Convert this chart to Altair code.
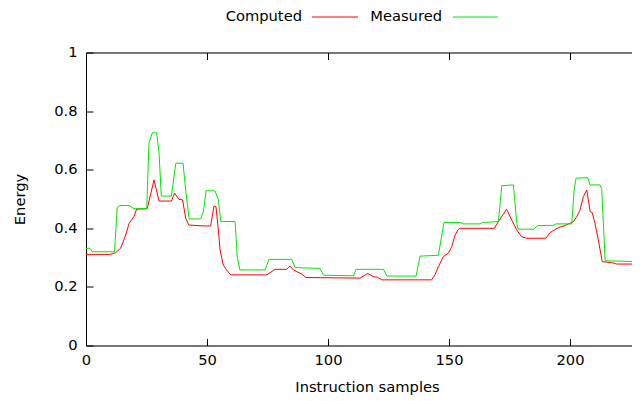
import altair as alt
import pandas as pd

# ---- data ----
computed_x = [0, 10, 12.3, 14.3, 16.4, 17.8, 19.8, 20.9, 25.3, 28.1,
              30.2, 35.3, 36.6, 38.4, 39.9, 41.2, 42.5, 48.8, 51.5, 52.9,
              53.7, 54.7, 55.4, 56.7, 58.1, 59.8, 74.7, 76, 78.1, 82.9,
              84.3, 85.7, 87.1, 89.1, 90.9, 113.2, 116.4, 118.7, 120.4, 122.2,
              142.8, 144.2, 145.6, 147.6, 149.7, 151.1, 152.5, 153.9, 154.5, 168.7,
              170.4, 173.8, 175.9, 178, 180, 182.1, 190, 191.7, 193.8, 195.9,
              198, 200, 201.4, 202.8, 204.1, 205.5, 206.9, 208.3, 209.2, 210.3,
              211.7, 213.3, 217.2, 219.3, 229]
computed_y = [0.311, 0.311, 0.317, 0.332, 0.377, 0.417, 0.44, 0.465, 0.467, 0.565,
              0.493, 0.493, 0.52, 0.499, 0.497, 0.434, 0.411, 0.408, 0.408, 0.476,
              0.474, 0.394, 0.326, 0.275, 0.258, 0.241, 0.241, 0.248, 0.26, 0.26,
              0.271, 0.258, 0.252, 0.244, 0.232, 0.23, 0.246, 0.235, 0.233, 0.224,
              0.224, 0.241, 0.269, 0.303, 0.315, 0.337, 0.377, 0.397, 0.40, 0.40,
              0.423, 0.465, 0.428, 0.394, 0.371, 0.366, 0.366, 0.385, 0.396, 0.404,
              0.41, 0.417, 0.423, 0.44, 0.462, 0.508, 0.531, 0.457, 0.453, 0.417,
              0.36, 0.286, 0.283, 0.278, 0.278]

measured_x = [0, 1.6, 2.6, 11.8, 12.9, 14, 17.8, 19.8, 25.1, 26,
              27.4, 29.2, 30.2, 31.1, 35.3, 37.1, 40.1, 41.2, 42.6, 47.4,
              48.5, 49.6, 53.3, 54.7, 55.7, 61.6, 62.5, 63.6, 74, 75.6,
              85, 86.4, 96.7, 98.1, 110.5, 111.6, 122.9, 124.3, 136.4, 138,
              145.6, 147.9, 154.5, 155.9, 162.8, 163.9, 170.4, 171.8, 176.6, 178,
              178.6, 185.1, 186.5, 193.1, 194.2, 200.7, 201.7, 202.5, 207.3, 208.3,
              212.4, 213.1, 214.5, 229]
measured_y = [0.332, 0.332, 0.32, 0.32, 0.472, 0.478, 0.478, 0.467, 0.467, 0.69,
              0.726, 0.726, 0.656, 0.51, 0.51, 0.622, 0.622, 0.53, 0.432, 0.432,
              0.457, 0.528, 0.528, 0.497, 0.423, 0.423, 0.303, 0.258, 0.258, 0.294,
              0.294, 0.266, 0.263, 0.24, 0.238, 0.26, 0.26, 0.237, 0.237, 0.305,
              0.308, 0.42, 0.42, 0.415, 0.415, 0.42, 0.423, 0.545, 0.548, 0.417,
              0.397, 0.397, 0.409, 0.41, 0.415, 0.415, 0.531, 0.571, 0.573, 0.548,
              0.548, 0.533, 0.289, 0.286]

series = ["Computed", "Measured"]
colors = ["#ff0000", "#00e600"]
x_ticks = [0, 50, 100, 150, 200]
y_ticks = [0, 0.2, 0.4, 0.6, 0.8, 1]

df = pd.concat([
    pd.DataFrame({"x": computed_x, "y": computed_y, "series": series[0]}),
    pd.DataFrame({"x": measured_x, "y": measured_y, "series": series[1]}),
], ignore_index=True)

FONT = "DejaVu Sans"
FS = 14.7
W, H = 546, 293
TICK_IN = alt.ExprRef(expr="-7")

xscale = alt.Scale(domain=[0, 225.6], nice=False, zero=False)
yscale = alt.Scale(domain=[0, 1], nice=False)

x_bottom = alt.Axis(orient="bottom", values=x_ticks, grid=False, tickSize=TICK_IN,
                    labelPadding=14, labelFlush=False, labelFont=FONT, labelFontSize=FS,
                    labelColor="black", domainColor="black", tickColor="black",
                    title="Instruction samples", titleFont=FONT, titleFontSize=FS,
                    titleFontWeight="normal", titleColor="black",
                    titleX=281, titleY=41.5, titleAlign="center", titleBaseline="middle")
x_top = alt.Axis(orient="top", values=x_ticks, grid=False, tickSize=TICK_IN,
                 labels=False, title=None, domainColor="black", tickColor="black")
y_left = alt.Axis(orient="left", values=y_ticks, format="~g", grid=False, tickSize=TICK_IN,
                  labelPadding=16, labelFont=FONT, labelFontSize=FS, labelColor="black",
                  labelFlush=False, domainColor="black", tickColor="black",
                  title="Energy", titleFont=FONT, titleFontSize=FS, titleFontWeight="normal",
                  titleColor="black", titleX=-66, titleY=H / 2, titleAngle=270,
                  titleAlign="center", titleBaseline="middle")

base = alt.Chart(df)

lines = base.mark_line(strokeWidth=1, clip=True).encode(
    x=alt.X("x:Q", scale=xscale, axis=x_bottom),
    y=alt.Y("y:Q", scale=yscale, axis=y_left),
    color=alt.Color("series:N", scale=alt.Scale(domain=series, range=colors), legend=None),
    detail="series:N",
)

mirror = base.mark_line(opacity=0, clip=True).encode(
    x=alt.X("x:Q", scale=xscale, axis=x_top),
    y=alt.Y("y:Q", scale=yscale, axis=y_left),
    detail="series:N",
)

# legend (gnuplot style: label then line sample)
leg_y = -35.5
leg1_txt = alt.Chart(pd.DataFrame({"s": [series[0]]})).mark_text(
    align="right", baseline="middle", font=FONT, fontSize=FS, color="black"
).encode(x=alt.value(216), y=alt.value(leg_y), text="s:N")
leg1_line = alt.Chart(pd.DataFrame({"s": [series[0]]})).mark_rule(
    color=colors[0], strokeWidth=1
).encode(x=alt.value(226), x2=alt.value(272), y=alt.value(leg_y))
leg2_txt = alt.Chart(pd.DataFrame({"s": [series[1]]})).mark_text(
    align="right", baseline="middle", font=FONT, fontSize=FS, color="black"
).encode(x=alt.value(356), y=alt.value(leg_y), text="s:N")
leg2_line = alt.Chart(pd.DataFrame({"s": [series[1]]})).mark_rule(
    color=colors[1], strokeWidth=1
).encode(x=alt.value(367), x2=alt.value(412), y=alt.value(leg_y))

chart = alt.layer(lines, mirror, leg1_txt, leg1_line, leg2_txt, leg2_line).resolve_axis(
    x="independent"
).properties(
    width=W, height=H,
    autosize=alt.AutoSizeParams(type="none"),
    padding={"left": 78, "top": 44.5, "right": 0, "bottom": 52},
).configure_view(stroke=None).configure(background="white")

chart.save("out.html", embed_options={"renderer": "svg", "actions": False})
